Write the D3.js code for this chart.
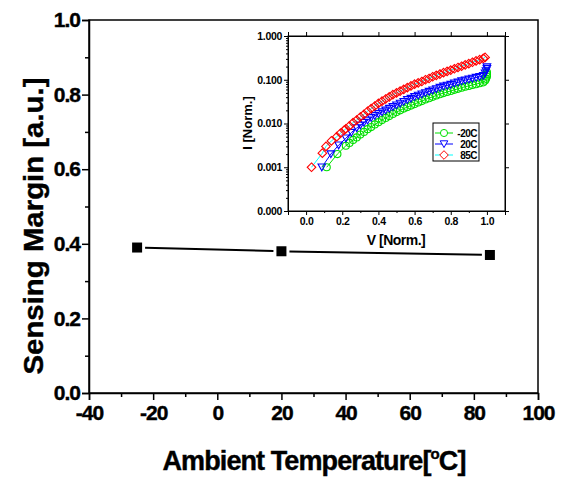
<!DOCTYPE html>
<html>
<head>
<meta charset="utf-8">
<script src="https://cdn.jsdelivr.net/npm/d3@7"></script>
<style>
  body { margin: 0; background: #fff; }
  text { font-family: "Liberation Sans", Arial, Helvetica, sans-serif; font-weight: bold; }
</style>
</head>
<body>
<script>
// main chart data
var temps = [-25, 20, 85];
var margins = [0.39, 0.38, 0.37];
var xTicks = [-40, -20, 0, 20, 40, 60, 80, 100];
var yTicks = [0.0, 0.2, 0.4, 0.6, 0.8, 1.0];

// inset data: V [Norm.] and I [Norm.]
var v_m20 = [0.114, 0.173, 0.22, 0.24, 0.26, 0.28, 0.30, 0.32, 0.34, 0.36, 0.38, 0.40, 0.42, 0.44, 0.46, 0.48, 0.50, 0.52, 0.54, 0.56, 0.58, 0.60, 0.62, 0.64, 0.66, 0.68, 0.70, 0.72, 0.74, 0.76, 0.78, 0.80, 0.82, 0.84, 0.86, 0.88, 0.90, 0.92, 0.94, 0.96, 0.98, 0.99, 0.995, 1.0, 1.0, 1.0];
var i_m20 = [0.0010, 0.0020, 0.0031, 0.0036, 0.0042, 0.0048, 0.0056, 0.0064, 0.0074, 0.0083, 0.0095, 0.0107, 0.0120, 0.0134, 0.0148, 0.0165, 0.0182, 0.0200, 0.0219, 0.0238, 0.0257, 0.0278, 0.0302, 0.0325, 0.0355, 0.0380, 0.0407, 0.0437, 0.0468, 0.0496, 0.0525, 0.0555, 0.0589, 0.0621, 0.0660, 0.0692, 0.0724, 0.0760, 0.0794, 0.0832, 0.0871, 0.0955, 0.105, 0.118, 0.132, 0.148];

var v_20 = [0.087, 0.137, 0.18, 0.22, 0.25, 0.28, 0.30, 0.32, 0.34, 0.36, 0.38, 0.40, 0.42, 0.44, 0.46, 0.48, 0.50, 0.52, 0.54, 0.56, 0.58, 0.60, 0.62, 0.64, 0.66, 0.68, 0.70, 0.72, 0.74, 0.76, 0.78, 0.80, 0.82, 0.84, 0.86, 0.88, 0.90, 0.92, 0.94, 0.96, 0.98, 0.99, 0.995, 1.0, 1.0];
var i_20 = [0.0010, 0.0020, 0.0032, 0.0046, 0.0062, 0.0079, 0.0091, 0.0105, 0.0118, 0.0135, 0.0150, 0.0166, 0.0182, 0.0200, 0.0219, 0.0240, 0.0263, 0.0288, 0.0316, 0.0347, 0.0372, 0.0407, 0.0437, 0.0468, 0.0501, 0.0537, 0.0575, 0.0617, 0.0661, 0.0708, 0.0741, 0.0776, 0.0832, 0.0871, 0.0933, 0.0977, 0.102, 0.107, 0.112, 0.117, 0.123, 0.141, 0.158, 0.178, 0.195];

var v_85 = [0.03, 0.09, 0.11, 0.14, 0.17, 0.19, 0.21, 0.22, 0.24, 0.26, 0.28, 0.30, 0.32, 0.34, 0.36, 0.38, 0.40, 0.42, 0.44, 0.46, 0.48, 0.50, 0.52, 0.54, 0.56, 0.58, 0.60, 0.62, 0.64, 0.66, 0.68, 0.70, 0.72, 0.74, 0.76, 0.78, 0.80, 0.82, 0.84, 0.86, 0.88, 0.90, 0.92, 0.94, 0.96, 0.98, 0.99];
var i_85 = [0.0010, 0.0021, 0.0030, 0.0040, 0.0050, 0.0060, 0.0070, 0.0076, 0.0088, 0.0105, 0.0120, 0.0141, 0.0162, 0.0191, 0.0219, 0.0251, 0.0288, 0.0324, 0.0363, 0.0407, 0.0457, 0.0501, 0.0550, 0.0603, 0.0661, 0.0724, 0.0794, 0.0851, 0.0912, 0.100, 0.107, 0.117, 0.126, 0.135, 0.145, 0.155, 0.166, 0.178, 0.191, 0.204, 0.219, 0.234, 0.251, 0.269, 0.288, 0.309, 0.324];

var insetXTicks = [0.0, 0.2, 0.4, 0.6, 0.8, 1.0];
var insetYTicks = [0.0001, 0.001, 0.01, 0.1, 1];
var legendLabels = ["-20C", "20C", "85C"];

var svg = d3.select("body").append("svg")
    .attr("width", 562)
    .attr("height", 477);

// ---------- main chart ----------
var x = d3.scaleLinear().domain([-40, 100]).range([89, 538]);
var y = d3.scaleLinear().domain([0, 1]).range([393, 20]);

function styleAxis(g, size) {
  g.selectAll("path, line").attr("stroke", "#000").attr("stroke-width", 1.5);
  g.selectAll("text").attr("font-size", size).attr("font-family", "Liberation Sans, Arial, sans-serif")
    .attr("font-weight", "bold").attr("fill", "#000").attr("letter-spacing", "-1px")
    .attr("stroke", "#000").attr("stroke-width", 0.4);
}

// frame
svg.append("rect")
  .attr("x", 89).attr("y", 20).attr("width", 538 - 89).attr("height", 393 - 20)
  .attr("fill", "none").attr("stroke", "#000").attr("stroke-width", 1.5);

var xMinor = svg.append("g").attr("transform", "translate(0,393)")
  .call(d3.axisBottom(x).tickValues(d3.range(-30, 100, 20)).tickSize(4).tickFormat(""));
styleAxis(xMinor, 0);
xMinor.select(".domain").remove();

var xAxis = svg.append("g").attr("transform", "translate(0,393)")
  .call(d3.axisBottom(x).tickValues(xTicks).tickSize(7).tickPadding(5)
    .tickFormat(function(d) { return String(d); }));
styleAxis(xAxis, 21);
xAxis.selectAll("text").attr("dy", "0.72em");

var yMinor = svg.append("g").attr("transform", "translate(89,0)")
  .call(d3.axisLeft(y).tickValues([0.1, 0.3, 0.5, 0.7, 0.9]).tickSize(4).tickFormat(""));
styleAxis(yMinor, 0);
yMinor.select(".domain").remove();

var yAxis = svg.append("g").attr("transform", "translate(89,0)")
  .call(d3.axisLeft(y).tickValues(yTicks).tickSize(7).tickPadding(2).tickFormat(d3.format(".1f")));
styleAxis(yAxis, 21);

// line with gaps round the markers
var gap = 8;
for (var k = 0; k < temps.length - 1; k++) {
  var x1 = x(temps[k]), y1 = y(margins[k]);
  var x2 = x(temps[k + 1]), y2 = y(margins[k + 1]);
  var len = Math.sqrt((x2 - x1) * (x2 - x1) + (y2 - y1) * (y2 - y1));
  var ux = (x2 - x1) / len, uy = (y2 - y1) / len;
  svg.append("line")
    .attr("x1", x1 + ux * gap).attr("y1", y1 + uy * gap)
    .attr("x2", x2 - ux * gap).attr("y2", y2 - uy * gap)
    .attr("stroke", "#000").attr("stroke-width", 2);
}

svg.selectAll(".sq")
  .data(temps)
  .enter().append("rect")
  .attr("class", "sq")
  .attr("x", function(d) { return x(d) - 5; })
  .attr("y", function(d, i) { return y(margins[i]) - 5; })
  .attr("width", 10).attr("height", 10)
  .attr("fill", "#000");

svg.append("text")
  .attr("transform", "translate(43,226) rotate(-90)")
  .attr("text-anchor", "middle")
  .attr("font-size", 28)
  .attr("stroke", "#000").attr("stroke-width", 0.4)
  .attr("textLength", 297).attr("lengthAdjust", "spacingAndGlyphs")
  .text("Sensing Margin [a.u.]");

var xt = svg.append("text")
  .attr("x", 314).attr("y", 470)
  .attr("text-anchor", "middle")
  .attr("font-size", 27)
  .attr("letter-spacing", "-0.9px")
  .attr("stroke", "#000").attr("stroke-width", 0.4);
xt.append("tspan").text("Ambient Temperature[");
xt.append("tspan").attr("font-size", 15).attr("baseline-shift", "11").text("o");
xt.append("tspan").text("C]");

// ---------- inset ----------
var xi = d3.scaleLinear().domain([-0.1, 1.1]).range([288, 505]);
var yi = d3.scaleLog().domain([1e-4, 1]).range([211, 36]);

svg.append("rect")
  .attr("x", 288).attr("y", 36).attr("width", 505 - 288).attr("height", 211 - 36)
  .attr("fill", "#fff").attr("stroke", "#000").attr("stroke-width", 1);

function styleInset(g) {
  g.selectAll("path, line").attr("stroke", "#000").attr("stroke-width", 1);
  g.selectAll("text").attr("font-size", 10.5).attr("font-family", "Liberation Sans, Arial, sans-serif")
    .attr("font-weight", "bold").attr("fill", "#000").attr("letter-spacing", "-0.3px");
}

var minorLog = [];
[1e-4, 1e-3, 1e-2, 1e-1].forEach(function(b) {
  for (var m = 2; m <= 9; m++) minorLog.push(b * m);
});
var minorX = [-0.1, 0.1, 0.3, 0.5, 0.7, 0.9, 1.1];

var gi;
gi = svg.append("g").attr("transform", "translate(288,0)")
  .call(d3.axisLeft(yi).tickValues(minorLog).tickSize(2).tickFormat(""));
styleInset(gi); gi.select(".domain").remove();
gi = svg.append("g").attr("transform", "translate(288,0)")
  .call(d3.axisLeft(yi).tickValues(insetYTicks).tickSize(4).tickPadding(2).tickFormat(d3.format(".3f")));
styleInset(gi);

gi = svg.append("g").attr("transform", "translate(0,211)")
  .call(d3.axisBottom(xi).tickValues(minorX).tickSize(2).tickFormat(""));
styleInset(gi); gi.select(".domain").remove();
gi = svg.append("g").attr("transform", "translate(0,211)")
  .call(d3.axisBottom(xi).tickValues(insetXTicks).tickSize(4).tickPadding(3).tickFormat(d3.format(".1f")));
styleInset(gi);

gi = svg.append("g").attr("transform", "translate(0,36)")
  .call(d3.axisTop(xi).tickValues(insetXTicks).tickSize(4).tickFormat(""));
styleInset(gi);
gi = svg.append("g").attr("transform", "translate(505,0)")
  .call(d3.axisRight(yi).tickValues(insetYTicks).tickSize(4).tickFormat(""));
styleInset(gi);

svg.append("text")
  .attr("transform", "translate(252,123) rotate(-90)")
  .attr("text-anchor", "middle")
  .attr("font-size", 13)
  .text("I [Norm.]");

svg.append("text")
  .attr("x", 396).attr("y", 245)
  .attr("text-anchor", "middle")
  .attr("font-size", 14)
  .attr("letter-spacing", "-0.5px")
  .text("V [Norm.]");

var series = [
  {v: v_m20, i: i_m20, line: "#00e000", mark: "#00e000", sym: "circle"},
  {v: v_20, i: i_20, line: "#0000ff", mark: "#0000ff", sym: "tri"},
  {v: v_85, i: i_85, line: "#00ffff", mark: "#ff0000", sym: "diamond"}
];

function markerPath(sym) {
  if (sym === "circle") return d3.symbol().type(d3.symbolCircle).size(40)();
  if (sym === "tri") return "M-3.8,-3.2L3.8,-3.2L0,3.6Z";
  return "M0,-4.3L4.3,0L0,4.3L-4.3,0Z";
}

var line = d3.line().x(function(d) { return xi(d[0]); }).y(function(d) { return yi(d[1]); });

series.forEach(function(s) {
  var pts = s.v.map(function(v, j) { return [v, s.i[j]]; });
  svg.append("path").datum(pts)
    .attr("d", line)
    .attr("fill", "none").attr("stroke", s.line).attr("stroke-width", 1);
});

series.forEach(function(s) {
  var pts = s.v.map(function(v, j) { return [v, s.i[j]]; });
  svg.append("g").selectAll("path")
    .data(pts)
    .enter().append("path")
    .attr("transform", function(d) { return "translate(" + xi(d[0]) + "," + yi(d[1]) + ")"; })
    .attr("d", markerPath(s.sym))
    .attr("fill", "none").attr("stroke", s.mark).attr("stroke-width", 1.1);
});

// legend
var lg = svg.append("g");
lg.append("rect")
  .attr("x", 433).attr("y", 123).attr("width", 46).attr("height", 38)
  .attr("fill", "#fff").attr("stroke", "#000").attr("stroke-width", 1);
legendLabels.forEach(function(lab, j) {
  var ly = 133 + j * 11;
  lg.append("line").attr("x1", 435).attr("x2", 453).attr("y1", ly).attr("y2", ly)
    .attr("stroke", series[j].line).attr("stroke-width", 1);
  lg.append("path").attr("transform", "translate(444," + ly + ")")
    .attr("d", markerPath(series[j].sym))
    .attr("fill", "#fff").attr("stroke", series[j].mark).attr("stroke-width", 1);
  lg.append("text").attr("x", 477).attr("y", ly + 3.5)
    .attr("text-anchor", "end").attr("font-size", 10)
    .attr("letter-spacing", "-0.5px")
    .text(lab);
});
</script>
</body>
</html>
